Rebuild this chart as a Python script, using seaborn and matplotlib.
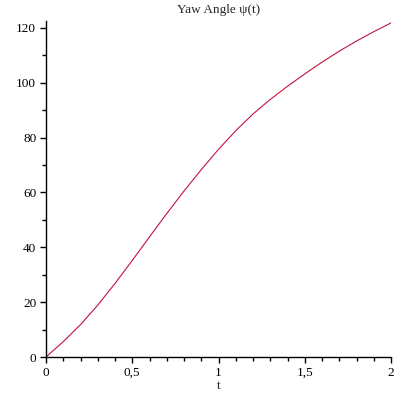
import numpy as np
import pandas as pd
import matplotlib
matplotlib.use('Agg')
import matplotlib.pyplot as plt
from matplotlib.ticker import MultipleLocator, FuncFormatter
import seaborn as sns

# values
t = [0.0, 0.1, 0.2, 0.3, 0.4, 0.5, 0.6, 0.7, 0.8, 0.9, 1.0,
     1.1, 1.2, 1.3, 1.4, 1.5, 1.6, 1.7, 1.8, 1.9, 2.0]
psi = [0.0, 5.6, 11.8, 18.9, 26.8, 35.2, 43.8, 52.3, 60.5, 68.3, 75.7,
       82.5, 88.6, 93.9, 98.7, 103.2, 107.5, 111.5, 115.2, 118.6, 121.8]
x_ticks = [0, 0.5, 1, 1.5, 2]
y_ticks = [0, 20, 40, 60, 80, 100, 120]

df = pd.DataFrame({'t': t, 'psi': psi})

sns.set_style('ticks')
plt.rcParams['font.family'] = ['Liberation Serif', 'DejaVu Serif']
plt.rcParams['font.size'] = 9.5

fig = plt.figure(figsize=(4, 4), dpi=100)
ax = fig.add_axes([0.115, 0.1075, 0.8625, 0.84])

sns.lineplot(data=df, x='t', y='psi', ax=ax, color='#c0143c', linewidth=0.8)

ax.set_xlim(0, 2)
ax.set_ylim(0, 122.5)
ax.set_xticks(x_ticks)
ax.set_yticks(y_ticks)
ax.xaxis.set_minor_locator(MultipleLocator(0.1))
ax.yaxis.set_minor_locator(MultipleLocator(10))
ax.xaxis.set_major_formatter(FuncFormatter(lambda v, p: f'{v:g}'.replace('.', ',')))

for s in ['top', 'right']:
    ax.spines[s].set_visible(False)
for s in ['left', 'bottom']:
    ax.spines[s].set_linewidth(1.0)
    ax.spines[s].set_color('black')

ax.tick_params(which='major', length=4, width=1, colors='black', labelsize=9.5, pad=3)
ax.tick_params(which='minor', length=3, width=1, colors='black')

ax.set_title('Yaw Angle ψ(t)', fontsize=9.5, pad=6)
ax.set_xlabel('t', fontsize=9.5, labelpad=1)
ax.set_ylabel('')

fig.savefig('out.png', dpi=100)
